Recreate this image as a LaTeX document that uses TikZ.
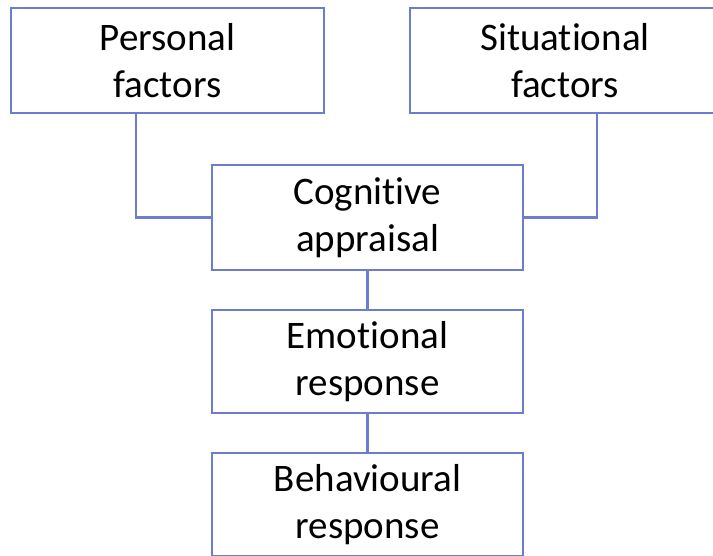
\documentclass[tikz,border=0pt]{standalone}
\usepackage{fontspec}
\setmainfont{Carlito}[Ligatures=NoCommon]
\definecolor{boxblue}{RGB}{108,124,206}
\begin{document}
\begin{tikzpicture}[x=1pt,y=-1pt,
  box/.style={draw=boxblue,line width=2.2pt,fill=white,inner sep=0pt,align=center,
    font=\fontsize{39}{47}\selectfont},
  link/.style={draw=boxblue,line width=2.2pt}]
\useasboundingbox (0,0) rectangle (713,556);
\clip (0,0) rectangle (713,556);
\node[box,minimum width=313pt,minimum height=105pt] (p) at (167.5,60.5) {Personal\\factors};
\node[box,minimum width=310pt,minimum height=105pt] (s) at (565,60.5) {Situational\\factors};
\node[box,minimum width=311pt,minimum height=105pt] (c) at (367.5,217.5) {Cognitive\\appraisal};
\node[box,minimum width=311pt,minimum height=103pt] (e) at (367.5,361.5) {Emotional\\response};
\node[box,minimum width=311pt,minimum height=103pt] (b) at (367.5,504.5) {Behavioural\\response};
\draw[link] ([xshift=-31.5pt]p.south) |- (c.west);
\draw[link] ([xshift=32pt]s.south) |- (c.east);
\draw[link] (c.south) -- (e.north);
\draw[link] (e.south) -- (b.north);
\end{tikzpicture}
\end{document}
